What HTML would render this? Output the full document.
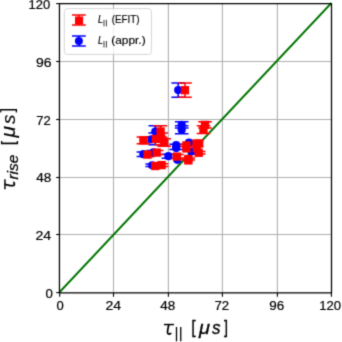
<!DOCTYPE html><html><head><meta charset="utf-8"><style>html,body{margin:0;padding:0;background:#fff;overflow:hidden;}svg{display:block;}text{font-family:"Liberation Sans",sans-serif;}</style></head><body>
<svg width="342" height="342" viewBox="0 0 342 342">
<defs><filter id="bl" filterUnits="userSpaceOnUse" x="0" y="0" width="342" height="342" color-interpolation-filters="sRGB"><feConvolveMatrix order="3" kernelMatrix="0.02250 0.10500 0.02250 0.10500 0.49000 0.10500 0.02250 0.10500 0.02250" divisor="1" edgeMode="none" preserveAlpha="false"/></filter></defs>
<rect x="0" y="0" width="342" height="342" fill="#fff"/>
<g filter="url(#bl)">
<line x1="113.5" y1="3.6" x2="113.5" y2="292.6" stroke="#b0b0b0" stroke-width="1.1"/>
<line x1="59.7" y1="234.5" x2="331.4" y2="234.5" stroke="#b0b0b0" stroke-width="1.1"/>
<line x1="168.4" y1="3.6" x2="168.4" y2="292.6" stroke="#b0b0b0" stroke-width="1.1"/>
<line x1="59.7" y1="177.5" x2="331.4" y2="177.5" stroke="#b0b0b0" stroke-width="1.1"/>
<line x1="222.4" y1="3.6" x2="222.4" y2="292.6" stroke="#b0b0b0" stroke-width="1.1"/>
<line x1="59.7" y1="119.5" x2="331.4" y2="119.5" stroke="#b0b0b0" stroke-width="1.1"/>
<line x1="277.4" y1="3.6" x2="277.4" y2="292.6" stroke="#b0b0b0" stroke-width="1.1"/>
<line x1="59.7" y1="61.5" x2="331.4" y2="61.5" stroke="#b0b0b0" stroke-width="1.1"/>
<line x1="59.7" y1="292.0" x2="331.4" y2="3.0" stroke="#007400" stroke-width="1.85"/>
<path d="M178.2 83.00V97.20M171.40 83.00H185.00M171.40 97.20H185.00" stroke="#0000ff" stroke-width="1.5" fill="none"/>
<path d="M181.7 121.70V127.90M174.90 121.70H188.50M174.90 127.90H188.50" stroke="#0000ff" stroke-width="1.5" fill="none"/>
<path d="M181.7 125.85V133.85M174.90 125.85H188.50M174.90 133.85H188.50" stroke="#0000ff" stroke-width="1.5" fill="none"/>
<path d="M155.3 125.80V137.20M148.50 125.80H162.10M148.50 137.20H162.10" stroke="#0000ff" stroke-width="1.5" fill="none"/>
<path d="M155.2 132.90V144.70M148.40 132.90H162.00M148.40 144.70H162.00" stroke="#0000ff" stroke-width="1.5" fill="none"/>
<path d="M151.6 136.80V141.80M144.80 136.80H158.40M144.80 141.80H158.40" stroke="#0000ff" stroke-width="1.5" fill="none"/>
<path d="M143.4 151.95V156.45M136.60 151.95H150.20M136.60 156.45H150.20" stroke="#0000ff" stroke-width="1.5" fill="none"/>
<path d="M153.5 150.40V154.40M146.70 150.40H160.30M146.70 154.40H160.30" stroke="#0000ff" stroke-width="1.5" fill="none"/>
<path d="M152.2 164.10V166.50M145.40 164.10H159.00M145.40 166.50H159.00" stroke="#0000ff" stroke-width="1.5" fill="none"/>
<path d="M176.2 144.30V149.50M169.40 144.30H183.00M169.40 149.50H183.00" stroke="#0000ff" stroke-width="1.5" fill="none"/>
<path d="M168.4 154.20V158.20M161.60 154.20H175.20M161.60 158.20H175.20" stroke="#0000ff" stroke-width="1.5" fill="none"/>
<path d="M185.0 83.10V97.30M178.20 83.10H191.80M178.20 97.30H191.80" stroke="#ff0000" stroke-width="1.5" fill="none"/>
<path d="M205.0 121.75V128.05M198.20 121.75H211.80M198.20 128.05H211.80" stroke="#ff0000" stroke-width="1.5" fill="none"/>
<path d="M203.5 125.80V133.60M196.70 125.80H210.30M196.70 133.60H210.30" stroke="#ff0000" stroke-width="1.5" fill="none"/>
<path d="M160.6 125.80V137.20M153.80 125.80H167.40M153.80 137.20H167.40" stroke="#ff0000" stroke-width="1.5" fill="none"/>
<path d="M161.3 132.90V144.70M154.50 132.90H168.10M154.50 144.70H168.10" stroke="#ff0000" stroke-width="1.5" fill="none"/>
<path d="M143.4 137.05V143.75M136.60 137.05H150.20M136.60 143.75H150.20" stroke="#ff0000" stroke-width="1.5" fill="none"/>
<path d="M155.9 136.50V141.50M149.10 136.50H162.70M149.10 141.50H162.70" stroke="#ff0000" stroke-width="1.5" fill="none"/>
<path d="M164.2 138.70V146.30M157.40 138.70H171.00M157.40 146.30H171.00" stroke="#ff0000" stroke-width="1.5" fill="none"/>
<path d="M147.5 152.35V156.85M140.70 152.35H154.30M140.70 156.85H154.30" stroke="#ff0000" stroke-width="1.5" fill="none"/>
<path d="M156.7 150.60V154.60M149.90 150.60H163.50M149.90 154.60H163.50" stroke="#ff0000" stroke-width="1.5" fill="none"/>
<path d="M155.3 164.80V167.20M148.50 164.80H162.10M148.50 167.20H162.10" stroke="#ff0000" stroke-width="1.5" fill="none"/>
<path d="M161.6 163.80V166.40M154.80 163.80H168.40M154.80 166.40H168.40" stroke="#ff0000" stroke-width="1.5" fill="none"/>
<path d="M177.0 154.60V158.60M170.20 154.60H183.80M170.20 158.60H183.80" stroke="#ff0000" stroke-width="1.5" fill="none"/>
<path d="M188.3 158.00V160.00M181.50 158.00H195.10M181.50 160.00H195.10" stroke="#ff0000" stroke-width="1.5" fill="none"/>
<path d="M186.4 144.40V146.40M179.60 144.40H193.20M179.60 146.40H193.20" stroke="#ff0000" stroke-width="1.5" fill="none"/>
<path d="M196.5 140.85V146.15M189.70 140.85H203.30M189.70 146.15H203.30" stroke="#ff0000" stroke-width="1.5" fill="none"/>
<path d="M198.7 151.50V154.10M191.90 151.50H205.50M191.90 154.10H205.50" stroke="#ff0000" stroke-width="1.5" fill="none"/>
<circle cx="178.2" cy="90.1" r="4.1" fill="#0000ff"/>
<circle cx="181.7" cy="124.8" r="4.1" fill="#0000ff"/>
<circle cx="181.7" cy="129.85" r="4.1" fill="#0000ff"/>
<circle cx="155.3" cy="131.5" r="4.1" fill="#0000ff"/>
<circle cx="155.2" cy="138.8" r="4.1" fill="#0000ff"/>
<circle cx="151.6" cy="139.3" r="4.1" fill="#0000ff"/>
<circle cx="143.4" cy="154.2" r="4.1" fill="#0000ff"/>
<circle cx="153.5" cy="152.4" r="4.1" fill="#0000ff"/>
<circle cx="152.2" cy="165.3" r="4.1" fill="#0000ff"/>
<circle cx="176.2" cy="145.1" r="4.1" fill="#0000ff"/>
<circle cx="176.2" cy="146.9" r="4.1" fill="#0000ff"/>
<circle cx="176.2" cy="148.1" r="4.1" fill="#0000ff"/>
<circle cx="168.4" cy="156.2" r="4.1" fill="#0000ff"/>
<circle cx="189.0" cy="142.5" r="4.1" fill="#0000ff"/>
<circle cx="191.5" cy="151.5" r="4.1" fill="#0000ff"/>
<circle cx="177.3" cy="159.8" r="4.1" fill="#0000ff"/>
<rect x="180.85" y="86.05" width="8.3" height="8.3" fill="#ff0000"/>
<rect x="200.85" y="120.75" width="8.3" height="8.3" fill="#ff0000"/>
<rect x="199.35" y="125.55" width="8.3" height="8.3" fill="#ff0000"/>
<rect x="156.45" y="127.35" width="8.3" height="8.3" fill="#ff0000"/>
<rect x="157.15" y="134.65" width="8.3" height="8.3" fill="#ff0000"/>
<rect x="139.25" y="136.25" width="8.3" height="8.3" fill="#ff0000"/>
<rect x="151.75" y="134.85" width="8.3" height="8.3" fill="#ff0000"/>
<rect x="160.05" y="138.35" width="8.3" height="8.3" fill="#ff0000"/>
<rect x="143.35" y="150.45" width="8.3" height="8.3" fill="#ff0000"/>
<rect x="152.55" y="148.45" width="8.3" height="8.3" fill="#ff0000"/>
<rect x="151.15" y="161.85" width="8.3" height="8.3" fill="#ff0000"/>
<rect x="157.45" y="160.95" width="8.3" height="8.3" fill="#ff0000"/>
<rect x="172.85" y="152.45" width="8.3" height="8.3" fill="#ff0000"/>
<rect x="184.15" y="154.85" width="8.3" height="8.3" fill="#ff0000"/>
<rect x="184.15" y="156.25" width="8.3" height="8.3" fill="#ff0000"/>
<rect x="182.25" y="141.25" width="8.3" height="8.3" fill="#ff0000"/>
<rect x="182.25" y="144.25" width="8.3" height="8.3" fill="#ff0000"/>
<rect x="192.35" y="139.35" width="8.3" height="8.3" fill="#ff0000"/>
<rect x="195.05" y="139.35" width="8.3" height="8.3" fill="#ff0000"/>
<rect x="192.65" y="143.85" width="8.3" height="8.3" fill="#ff0000"/>
<rect x="194.55" y="148.65" width="8.3" height="8.3" fill="#ff0000"/>
<path d="M59.45 3.05V293.45000000000005M331.5 3.05V293.45000000000005M58.85 3.65H332.1M58.85 292.85H332.1" fill="none" stroke="#000" stroke-width="1.25"/>
<line x1="59.7" y1="292.85" x2="59.7" y2="296.75" stroke="#000" stroke-width="1.1"/>
<line x1="56.150000000000006" y1="292.6" x2="59.45" y2="292.6" stroke="#000" stroke-width="1.1"/>
<line x1="113.5" y1="292.85" x2="113.5" y2="296.75" stroke="#000" stroke-width="1.1"/>
<line x1="56.150000000000006" y1="234.5" x2="59.45" y2="234.5" stroke="#000" stroke-width="1.1"/>
<line x1="168.4" y1="292.85" x2="168.4" y2="296.75" stroke="#000" stroke-width="1.1"/>
<line x1="56.150000000000006" y1="177.5" x2="59.45" y2="177.5" stroke="#000" stroke-width="1.1"/>
<line x1="222.4" y1="292.85" x2="222.4" y2="296.75" stroke="#000" stroke-width="1.1"/>
<line x1="56.150000000000006" y1="119.5" x2="59.45" y2="119.5" stroke="#000" stroke-width="1.1"/>
<line x1="277.4" y1="292.85" x2="277.4" y2="296.75" stroke="#000" stroke-width="1.1"/>
<line x1="56.150000000000006" y1="61.5" x2="59.45" y2="61.5" stroke="#000" stroke-width="1.1"/>
<line x1="331.4" y1="292.85" x2="331.4" y2="296.75" stroke="#000" stroke-width="1.1"/>
<line x1="56.150000000000006" y1="3.6" x2="59.45" y2="3.6" stroke="#000" stroke-width="1.1"/>
<text transform="matrix(1.0008 0.0000 0.0000 0.9621 56.5896 310.0649)" font-size="13" font-style="normal" font-weight="normal" fill="#000" stroke="#000" stroke-width="0.22">0</text>
<text transform="matrix(1.0814 0.0000 0.0000 0.9758 105.4071 310.1900)" font-size="13" font-style="normal" font-weight="normal" fill="#000" stroke="#000" stroke-width="0.22">24</text>
<text transform="matrix(1.0364 0.0000 0.0000 0.9621 160.3732 310.0649)" font-size="13" font-style="normal" font-weight="normal" fill="#000" stroke="#000" stroke-width="0.22">48</text>
<text transform="matrix(1.0114 0.0000 0.0000 0.9758 214.5526 310.1900)" font-size="13" font-style="normal" font-weight="normal" fill="#000" stroke="#000" stroke-width="0.22">72</text>
<text transform="matrix(1.0317 0.0000 0.0000 0.9621 269.2065 310.0649)" font-size="13" font-style="normal" font-weight="normal" fill="#000" stroke="#000" stroke-width="0.22">96</text>
<text transform="matrix(1.0065 0.0000 0.0000 0.9621 319.1287 310.0649)" font-size="13" font-style="normal" font-weight="normal" fill="#000" stroke="#000" stroke-width="0.22">120</text>
<text transform="matrix(1.0170 0.0000 0.0000 0.9729 45.3812 298.0635)" font-size="13" font-style="normal" font-weight="normal" fill="#000" stroke="#000" stroke-width="0.22">0</text>
<text transform="matrix(1.0851 0.0000 0.0000 0.9758 35.4047 239.9900)" font-size="13" font-style="normal" font-weight="normal" fill="#000" stroke="#000" stroke-width="0.22">24</text>
<text transform="matrix(1.0401 0.0000 0.0000 0.9512 36.1720 181.9663)" font-size="13" font-style="normal" font-weight="normal" fill="#000" stroke="#000" stroke-width="0.22">48</text>
<text transform="matrix(1.0038 0.0000 0.0000 0.9758 36.3575 124.9900)" font-size="13" font-style="normal" font-weight="normal" fill="#000" stroke="#000" stroke-width="0.22">72</text>
<text transform="matrix(1.0769 0.0000 0.0000 0.9512 35.8800 66.7663)" font-size="13" font-style="normal" font-weight="normal" fill="#000" stroke="#000" stroke-width="0.22">96</text>
<text transform="matrix(1.0015 0.0000 0.0000 0.9512 28.5335 8.7663)" font-size="13" font-style="normal" font-weight="normal" fill="#000" stroke="#000" stroke-width="0.22">120</text>
<path d="M163.9 324.55H174.0" stroke="#000" stroke-width="1.45" fill="none"/><path d="M168.75 325.0C168.2 327.6 167.45 330.4 167.5 332.2C167.55 334.2 169.2 334.4 170.7 333.45" stroke="#000" stroke-width="1.75" fill="none" stroke-linecap="round"/>
<rect x="175.85" y="327" width="1.3" height="14.3" fill="#000"/><rect x="180.1" y="327" width="1.3" height="14.3" fill="#000"/>
<text transform="matrix(0.8889 0.0000 0.0000 1.0398 191.3300 333.3195)" font-size="18" font-style="normal" font-weight="normal" fill="#000" stroke="#000" stroke-width="0.3">[</text>
<text transform="matrix(1.1111 0.0000 0.0000 1.0648 198.9500 334.4083)" font-size="18" font-style="italic" font-weight="normal" fill="#000" stroke="#000" stroke-width="0.3">μ</text>
<text transform="matrix(0.9474 0.0000 0.0000 1.0296 211.9647 334.1647)" font-size="18" font-style="italic" font-weight="normal" fill="#000" stroke="#000" stroke-width="0.3">s</text>
<text transform="matrix(0.7977 0.0000 0.0000 1.0398 224.1064 333.3195)" font-size="18" font-style="normal" font-weight="normal" fill="#000" stroke="#000" stroke-width="0.3">]</text>
<g transform="matrix(0 -1 1 0 -319.6 353.2)"><path d="M163.9 324.55H174.0" stroke="#000" stroke-width="1.45" fill="none"/><path d="M168.75 325.0C168.2 327.6 167.45 330.4 167.5 332.2C167.55 334.2 169.2 334.4 170.7 333.45" stroke="#000" stroke-width="1.75" fill="none" stroke-linecap="round"/></g>
<text transform="matrix(0.0000 -1.1923 1.1073 0.0000 17.6461 179.6225)" font-size="13" font-style="italic" font-weight="normal" fill="#000" stroke="#000" stroke-width="0.22">rise</text>
<text transform="matrix(0.0000 -0.9389 1.0564 0.0000 13.6466 145.4230)" font-size="18" font-style="normal" font-weight="normal" fill="#000" stroke="#000" stroke-width="0.12">[</text>
<text transform="matrix(0.0000 -1.1697 1.1096 0.0000 14.8453 137.4189)" font-size="18" font-style="italic" font-weight="normal" fill="#000" stroke="#000" stroke-width="0.12">μ</text>
<text transform="matrix(0.0000 -1.0503 0.9969 0.0000 14.5606 123.9345)" font-size="18" font-style="italic" font-weight="normal" fill="#000" stroke="#000" stroke-width="0.12">s</text>
<text transform="matrix(0.0000 -0.9345 1.0267 0.0000 13.2589 112.6082)" font-size="18" font-style="normal" font-weight="normal" fill="#000" stroke="#000" stroke-width="0.12">]</text>
<rect x="64.3" y="8.6" width="87.1" height="45.8" rx="3" ry="3" fill="#fff" fill-opacity="0.8" stroke="#cccccc" stroke-opacity="0.8" stroke-width="1"/>
<path d="M78.9 14.899999999999999V24.9M72.0 14.899999999999999H85.80000000000001M72.0 24.9H85.80000000000001" stroke="#ff0000" stroke-width="1.5" fill="none"/><rect x="75.0" y="16.5" width="8.1" height="8.1" fill="#ff0000"/>
<path d="M78.9 36.1V46.1M72.0 36.1H85.80000000000001M72.0 46.1H85.80000000000001" stroke="#0000ff" stroke-width="1.5" fill="none"/><circle cx="78.9" cy="41.1" r="4" fill="#0000ff"/>
<text transform="matrix(0.9011 0.0000 0.0000 1.0580 98.0297 23.0000)" font-size="10" font-style="italic" font-weight="normal" fill="#000" stroke="#000" stroke-width="0.2">L</text>
<rect x="103.55" y="19.8" width="0.9" height="6.5" fill="#000" fill-opacity="0.85"/><rect x="105.9" y="19.8" width="0.9" height="6.5" fill="#000" fill-opacity="0.85"/>
<text transform="matrix(0.9797 0.0000 0.0000 1.0217 111.6872 22.6250)" font-size="10" font-style="normal" font-weight="normal" fill="#000" stroke="#000" stroke-width="0.15">(EFIT)</text>
<text transform="matrix(0.9011 0.0000 0.0000 1.0580 98.0297 44.2000)" font-size="10" font-style="italic" font-weight="normal" fill="#000" stroke="#000" stroke-width="0.2">L</text>
<rect x="103.55" y="41.0" width="0.9" height="6.5" fill="#000" fill-opacity="0.85"/><rect x="105.9" y="41.0" width="0.9" height="6.5" fill="#000" fill-opacity="0.85"/>
<text transform="matrix(1.1881 0.0000 0.0000 1.0217 111.2622 43.8250)" font-size="10" font-style="normal" font-weight="normal" fill="#000" stroke="#000" stroke-width="0.15">(appr.)</text>
</g>
</svg></body></html>
